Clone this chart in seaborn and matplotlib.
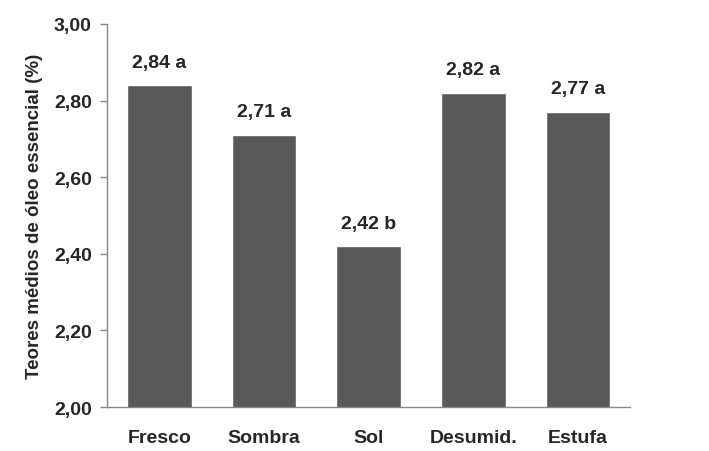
import matplotlib
matplotlib.use("Agg")
import matplotlib.pyplot as plt
import seaborn as sns
import pandas as pd
import numpy as np

categorias = ["Fresco", "Sombra", "Sol", "Desumid.", "Estufa"]
teores = [2.84, 2.71, 2.42, 2.82, 2.77]
letras = ["a", "a", "b", "a", "a"]
yticks = [2.00, 2.20, 2.40, 2.60, 2.80, 3.00]

sns.set_style("white")
plt.rcParams["font.family"] = ["Liberation Sans", "DejaVu Sans"]

df = pd.DataFrame({"tratamento": categorias, "teor": teores})

fig = plt.figure(figsize=(7.09, 4.52), dpi=100)
ax = fig.add_axes([0.151, 0.097, 0.738, 0.848])

sns.barplot(data=df, x="tratamento", y="teor", color="#595959",
            saturation=1, width=0.62, ax=ax)

ax.set_ylim(2.0, 3.0)
ax.set_xlim(-0.5, len(categorias) - 0.5)
ax.set_yticks(yticks)
ax.set_yticklabels([f"{v:.2f}".replace(".", ",") for v in yticks],
                   fontsize=14, fontweight="bold")
ax.set_xticks(range(len(categorias)))
ax.set_xticklabels(categorias, fontsize=14, fontweight="bold")
ax.tick_params(axis="x", which="major", length=0, pad=16)
ax.set_xticks(np.arange(-0.5, len(categorias), 1.0), minor=True)
ax.tick_params(axis="x", which="minor", length=5, color="#868686", width=1)
ax.tick_params(axis="y", length=5, color="#868686", width=1, pad=6, left=True)

for side in ["top", "right"]:
    ax.spines[side].set_visible(False)
for side in ["left", "bottom"]:
    ax.spines[side].set_color("#868686")
    ax.spines[side].set_linewidth(1)

for i, (v, l) in enumerate(zip(teores, letras)):
    ax.text(i, v + 0.038, f"{v:.2f}".replace(".", ",") + " " + l,
            ha="center", va="bottom", fontsize=14, fontweight="bold")

ax.set_xlabel("")
ax.set_ylabel("Teores médios de óleo essencial (%)", fontsize=13.5,
              fontweight="bold", labelpad=8)

fig.savefig("out.png", dpi=100)
